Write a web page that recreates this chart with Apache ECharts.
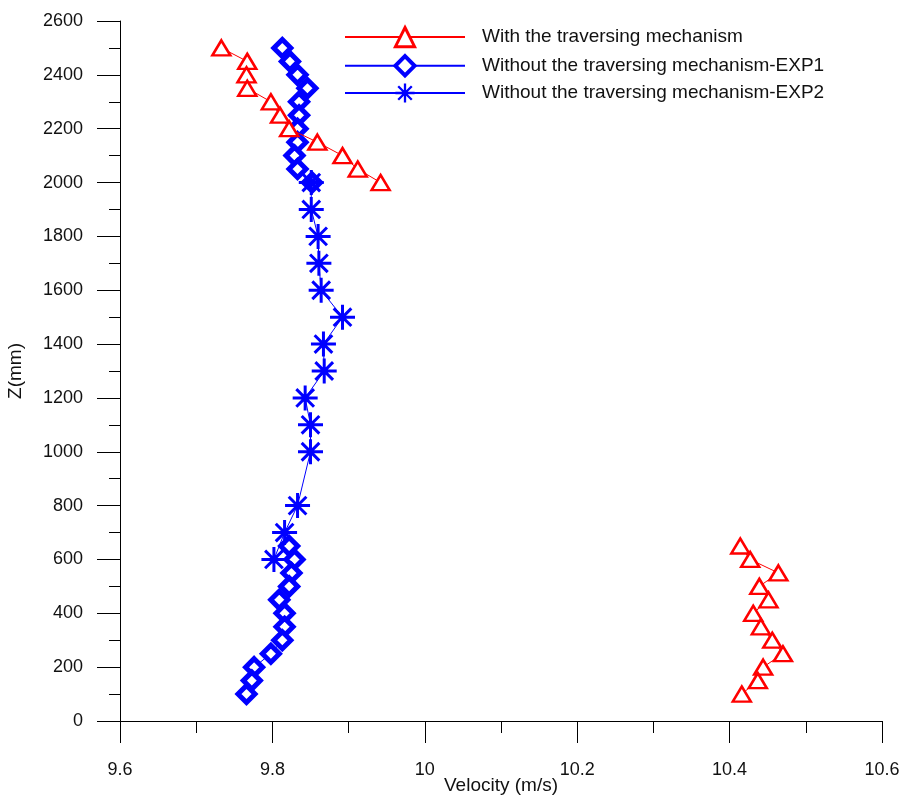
<!DOCTYPE html>
<html>
<head>
<meta charset="utf-8">
<title>Velocity profile</title>
<script src="https://cdn.jsdelivr.net/npm/echarts@6/dist/echarts.min.js"></script>
<style>
  html, body { margin: 0; padding: 0; background: #fff; }
  #chart { width: 906px; height: 802px; }
</style>
</head>
<body>
<div id="chart"></div>
<script>
// Series names
const nameTrav = "With the traversing mechanism";
const nameExp1 = "Without the traversing mechanism-EXP1";
const nameExp2 = "Without the traversing mechanism-EXP2";

// With the traversing mechanism (two separate groups)
const travUpperZ = [2500, 2450, 2400, 2350, 2300, 2250, 2200, 2150, 2100, 2050, 2000];
const travUpperV = [9.733, 9.767, 9.766, 9.767, 9.798, 9.81, 9.822, 9.859, 9.892, 9.912, 9.942];
const travLowerZ = [650, 600, 550, 500, 450, 400, 350, 300, 250, 200, 150, 100];
const travLowerV = [10.414, 10.427, 10.464, 10.439, 10.451, 10.431, 10.441, 10.456, 10.47, 10.444, 10.437, 10.416];

// Without the traversing mechanism - EXP1
const exp1UpperZ = [2500, 2450, 2400, 2350, 2300, 2250, 2200, 2150, 2100, 2050, 2000];
const exp1UpperV = [9.813, 9.823, 9.833, 9.846, 9.835, 9.835, 9.833, 9.833, 9.829, 9.833, 9.852];
const exp1LowerZ = [650, 600, 550, 500, 450, 400, 350, 300, 250, 200, 150, 100];
const exp1LowerV = [9.822, 9.829, 9.825, 9.822, 9.809, 9.816, 9.816, 9.813, 9.798, 9.776, 9.773, 9.766];

// Without the traversing mechanism - EXP2
const exp2Z = [2000, 1900, 1800, 1700, 1600, 1500, 1400, 1300, 1200, 1100, 1000, 800, 700, 600];
const exp2V = [9.851, 9.851, 9.86, 9.861, 9.864, 9.892, 9.867, 9.868, 9.843, 9.85, 9.85, 9.833, 9.816, 9.802];

const fontFamily = "'Liberation Sans', Arial, sans-serif";
const red = "#ff0000";
const blue = "#0000ff";

// 8-ray asterisk marker
const starPath =
  "path://M0 44 L100 44 L100 56 L0 56 Z " +
  "M44 0 L56 0 L56 100 L44 100 Z " +
  "M10.4 18.9 L18.9 10.4 L89.6 81.1 L81.1 89.6 Z " +
  "M81.1 10.4 L89.6 18.9 L18.9 89.6 L10.4 81.1 Z";

const pairs = (vs, zs) => vs.map((v, i) => [v, zs[i]]);

const travStyle = {
  type: "line",
  name: nameTrav,
  symbol: "triangle",
  symbolSize: [18, 15],
  itemStyle: { color: "#fff", borderColor: red, borderWidth: 2.5 },
  lineStyle: { color: red, width: 1 },
  z: 4,
};

const exp1Style = {
  type: "line",
  name: nameExp1,
  symbol: "diamond",
  symbolSize: 17,
  itemStyle: { color: "#fff", borderColor: blue, borderWidth: 5 },
  lineStyle: { color: blue, width: 1 },
  z: 2,
};

const chart = echarts.init(document.getElementById("chart"));

const option = {
  animation: false,
  textStyle: { fontFamily: fontFamily },
  grid: { left: 120, right: 24, top: 21, bottom: 81, outerBoundsMode: "none" },
  legend: {
    data: [
      { name: nameTrav, itemStyle: { borderWidth: 3 } },
      { name: nameExp1, itemStyle: { borderWidth: 4 } },
      { name: nameExp2 },
    ],
    orient: "vertical",
    left: 339,
    top: 21,
    itemWidth: 120,
    itemHeight: 24,
    itemGap: 6,
    textStyle: { fontSize: 19, color: "#111", padding: [0, 0, 0, 12] },
  },
  xAxis: {
    type: "value",
    min: 9.6,
    max: 10.6,
    interval: 0.2,
    name: "Velocity (m/s)",
    nameLocation: "middle",
    nameGap: 55,
    nameMoveOverlap: false,
    nameTextStyle: { fontSize: 19, color: "#111" },
    axisLine: { lineStyle: { color: "#000", width: 1 } },
    axisTick: { length: 22, lineStyle: { color: "#000" } },
    minorTick: { show: true, splitNumber: 2, length: 12, lineStyle: { color: "#000" } },
    axisLabel: {
      fontSize: 18,
      color: "#111",
      margin: 40,
      formatter: (v) => String(Math.round(v * 10) / 10),
    },
    splitLine: { show: false },
  },
  yAxis: {
    type: "value",
    min: 0,
    max: 2600,
    interval: 200,
    name: "Z(mm)",
    nameLocation: "middle",
    nameGap: 95,
    nameMoveOverlap: false,
    nameTextStyle: { fontSize: 19, color: "#111" },
    axisLine: { show: true, lineStyle: { color: "#000", width: 1 } },
    axisTick: { show: true, length: 23, lineStyle: { color: "#000" } },
    minorTick: { show: true, splitNumber: 2, length: 11, lineStyle: { color: "#000" } },
    axisLabel: { fontSize: 18, color: "#111", margin: 37, formatter: (v) => String(v) },
    splitLine: { show: false },
  },
  series: [
    Object.assign({}, travStyle, { data: pairs(travUpperV, travUpperZ) }),
    Object.assign({}, travStyle, { data: pairs(travLowerV, travLowerZ) }),
    Object.assign({}, exp1Style, { data: pairs(exp1UpperV, exp1UpperZ) }),
    Object.assign({}, exp1Style, { data: pairs(exp1LowerV, exp1LowerZ) }),
    {
      type: "line",
      name: nameExp2,
      symbol: starPath,
      symbolSize: 25,
      itemStyle: { color: blue, borderWidth: 0 },
      lineStyle: { color: blue, width: 1 },
      z: 3,
      data: pairs(exp2V, exp2Z),
    },
  ],
};

chart.setOption(option);
</script>
</body>
</html>
